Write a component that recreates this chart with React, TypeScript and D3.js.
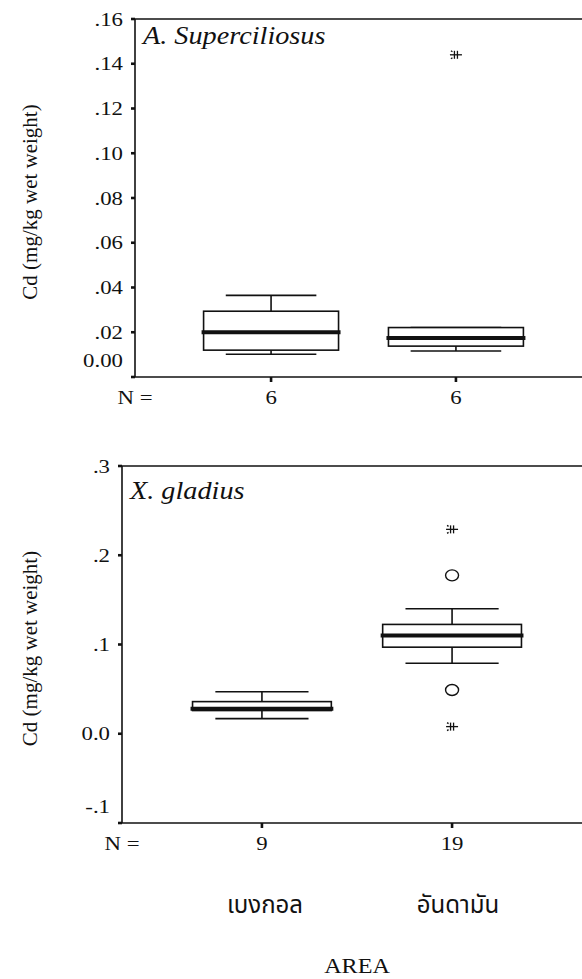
import React from 'react';
import * as d3 from 'd3';

// Sampling areas (x categories)
const areas = ['เบงกอล', 'อันดามัน'];

// A. Superciliosus — Cd (mg/kg wet weight)
const supLow = [0.0102, 0.0116];
const supQ1 = [0.012, 0.0138];
const supMedian = [0.02, 0.0174];
const supQ3 = [0.0294, 0.0221];
const supHigh = [0.0365, 0.0221];
const supN = [6, 6];
const supOutliers: { area: string; value: number }[] = [];
const supExtremes = [{ area: 'อันดามัน', value: 0.144 }];
const supTicks = [0, 0.02, 0.04, 0.06, 0.08, 0.1, 0.12, 0.14, 0.16];
const supTickLabels = ['0.00', '.02', '.04', '.06', '.08', '.10', '.12', '.14', '.16'];

// X. gladius — Cd (mg/kg wet weight)
const glaLow = [0.017, 0.079];
const glaQ1 = [0.026, 0.097];
const glaMedian = [0.028, 0.11];
const glaQ3 = [0.036, 0.1225];
const glaHigh = [0.047, 0.14];
const glaN = [9, 19];
const glaOutliers = [
  { area: 'อันดามัน', value: 0.1775 },
  { area: 'อันดามัน', value: 0.049 },
];
const glaExtremes = [
  { area: 'อันดามัน', value: 0.229 },
  { area: 'อันดามัน', value: 0.008 },
];
const glaTicks = [-0.1, 0, 0.1, 0.2, 0.3];
const glaTickLabels = ['-.1', '0.0', '.1', '.2', '.3'];

const SERIF = 'Liberation Serif';
const THAI = 'Noto Sans Thai, Noto Sans, sans-serif';
const INK = '#111';

// Text drawn with a horizontal stretch (wide serif lettering)
function WideText({
  x,
  y,
  sx = 1.2,
  anchor = 'start',
  size,
  italic = false,
  family = SERIF,
  dy,
  children,
}: {
  x: number;
  y: number;
  sx?: number;
  anchor?: 'start' | 'middle' | 'end';
  size: number;
  italic?: boolean;
  family?: string;
  dy?: string;
  children: React.ReactNode;
}) {
  return (
    <text
      transform={`translate(${x},${y}) scale(${sx},1)`}
      textAnchor={anchor}
      dy={dy}
      fontFamily={family}
      fontSize={size}
      fontStyle={italic ? 'italic' : 'normal'}
      fill={INK}
    >
      {children}
    </text>
  );
}

type PanelProps = {
  left: number;
  right: number;
  top: number;
  bottom: number;
  ticks: number[];
  tickLabels: string[];
  title: string;
  titleY: number;
  low: number[];
  q1: number[];
  median: number[];
  q3: number[];
  high: number[];
  n: number[];
  outliers: { area: string; value: number }[];
  extremes: { area: string; value: number }[];
};

function Star({ x, y }: { x: number; y: number }) {
  return (
    <g transform={`translate(${x},${y})`} stroke={INK} fill="none" strokeWidth={1.3}>
      <line x1={-6} x2={6} y1={0} y2={0} />
      <line x1={-1.5} x2={-1.5} y1={-4} y2={4} />
      <line x1={1.5} x2={1.5} y1={-4} y2={4} />
      <line x1={-5} x2={-3.5} y1={-4} y2={-3} />
      <line x1={-5} x2={-3.5} y1={4} y2={3} />
    </g>
  );
}

function Panel(p: PanelProps) {
  const y = d3
    .scaleLinear()
    .domain([p.ticks[0], p.ticks[p.ticks.length - 1]])
    .range([p.bottom, p.top]);
  const x = d3.scalePoint<string>().domain(areas).range([p.left, p.right]).padding(0.736);
  const step = x.step();
  const boxHalf = step * 0.365;
  const capHalf = step * 0.245;

  return (
    <g>
      {/* frame */}
      <g stroke={INK} strokeWidth={1.6} fill="none">
        <line x1={p.left} x2={p.left} y1={p.top} y2={p.bottom} />
        <line x1={p.left} x2={p.right} y1={p.top} y2={p.top} />
        <line x1={p.left} x2={p.right} y1={p.bottom} y2={p.bottom} />
      </g>

      {/* y ticks */}
      {p.ticks.map((t, i) => (
        <g key={`t${i}`}>
          <line x1={p.left - 4} x2={p.left} y1={y(t)} y2={y(t)} stroke={INK} strokeWidth={2.6} />
          <WideText x={p.left - 12} y={y(t) + (i === 0 ? -17 : 0)} dy="0.35em" anchor="end" size={19}>
            {p.tickLabels[i]}
          </WideText>
        </g>
      ))}

      {/* title */}
      <WideText x={p.left + 8} y={p.titleY} size={25} sx={1.13} italic>
        {p.title}
      </WideText>

      {/* y label */}
      <text
        transform={`translate(37,${(p.top + p.bottom) / 2 + 4}) rotate(-90)`}
        textAnchor="middle"
        fontFamily={SERIF}
        fontSize={21}
        fill={INK}
      >
        Cd (mg/kg wet weight)
      </text>

      {/* x ticks and N row */}
      <WideText x={p.left} y={p.bottom + 27} anchor="middle" size={19}>
        N =
      </WideText>
      {areas.map((a, i) => (
        <g key={`x${a}`}>
          <line x1={x(a)} x2={x(a)} y1={p.bottom} y2={p.bottom + 5} stroke={INK} strokeWidth={2.6} />
          <WideText x={x(a) as number} y={p.bottom + 27} anchor="middle" size={19}>
            {p.n[i]}
          </WideText>
        </g>
      ))}

      {/* boxes */}
      {areas.map((a, i) => {
        const cx = x(a) as number;
        return (
          <g key={`b${a}`} stroke={INK} fill="none">
            <line x1={cx} x2={cx} y1={y(p.high[i])} y2={y(p.q3[i])} strokeWidth={1.6} />
            <line x1={cx} x2={cx} y1={y(p.q1[i])} y2={y(p.low[i])} strokeWidth={1.6} />
            <line x1={cx - capHalf} x2={cx + capHalf} y1={y(p.high[i])} y2={y(p.high[i])} strokeWidth={1.6} />
            <line x1={cx - capHalf} x2={cx + capHalf} y1={y(p.low[i])} y2={y(p.low[i])} strokeWidth={1.6} />
            <rect
              x={cx - boxHalf}
              y={y(p.q3[i])}
              width={boxHalf * 2}
              height={y(p.q1[i]) - y(p.q3[i])}
              fill="#fff"
              strokeWidth={1.6}
            />
            <line
              x1={cx - boxHalf - 2}
              x2={cx + boxHalf + 2}
              y1={y(p.median[i])}
              y2={y(p.median[i])}
              strokeWidth={4}
            />
          </g>
        );
      })}

      {/* outliers */}
      {p.outliers.map((o, i) => (
        <ellipse
          key={`o${i}`}
          cx={x(o.area)}
          cy={y(o.value)}
          rx={6.5}
          ry={5.5}
          fill="none"
          stroke={INK}
          strokeWidth={1.4}
        />
      ))}
      {p.extremes.map((o, i) => (
        <Star key={`e${i}`} x={x(o.area) as number} y={y(o.value)} />
      ))}
    </g>
  );
}

export default function App() {
  return (
    <svg
      width={582}
      height={979}
      style={{ position: 'absolute', left: 0, top: 0, background: '#fff' }}
    >
      <rect width={582} height={979} fill="#fff" />
      <Panel
        left={135}
        right={592}
        top={19}
        bottom={377}
        ticks={supTicks}
        tickLabels={supTickLabels}
        title="A. Superciliosus"
        titleY={44}
        low={supLow}
        q1={supQ1}
        median={supMedian}
        q3={supQ3}
        high={supHigh}
        n={supN}
        outliers={supOutliers}
        extremes={supExtremes}
      />
      <Panel
        left={122}
        right={592}
        top={466}
        bottom={823}
        ticks={glaTicks}
        tickLabels={glaTickLabels}
        title="X. gladius"
        titleY={499}
        low={glaLow}
        q1={glaQ1}
        median={glaMedian}
        q3={glaQ3}
        high={glaHigh}
        n={glaN}
        outliers={glaOutliers}
        extremes={glaExtremes}
      />
      {/* category names */}
      {areas.map((a, i) => (
        <text
          key={a}
          x={i === 0 ? 265 : 458}
          y={913}
          textAnchor="middle"
          fontFamily={THAI}
          fontSize={24}
          fill={INK}
        >
          {a}
        </text>
      ))}
      <WideText x={357} y={973} anchor="middle" size={21} sx={1.15}>
        AREA
      </WideText>
    </svg>
  );
}
